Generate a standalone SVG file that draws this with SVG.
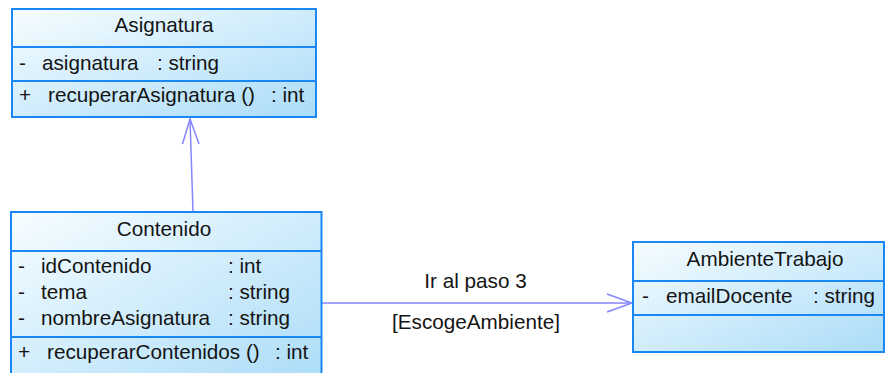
<svg xmlns="http://www.w3.org/2000/svg" width="885" height="373" viewBox="0 0 885 373">
<style>
.box{fill:url(#g);stroke:#1a88f4;stroke-width:2}
.div{stroke:#1a88f4;stroke-width:2}
text{font-family:"Liberation Sans",Arial,sans-serif;font-size:20.7px;fill:#141414}
.c{text-anchor:middle}
.edge{stroke:#8585ff;stroke-width:1.5;fill:none}
</style>
<defs>
<linearGradient id="g" x1="0" y1="0" x2="1" y2="1">
<stop offset="0" stop-color="#f7fdff"/>
<stop offset="1" stop-color="#aadcf8"/>
</linearGradient>
</defs>
<rect width="885" height="373" fill="#ffffff"/>
<g id="connectors">
<path class="edge" d="M193,212 L190,119"/>
<path class="edge" d="M182.5,144 L190,119 L199,144"/>
<path class="edge" d="M322,303 L632,303"/>
<path class="edge" d="M607,294 L632,303 L607,312"/>
<text class="c" x="475.5" y="288">Ir al paso 3</text>
<text class="c" x="476" y="329">[EscogeAmbiente]</text>
</g>
<g id="Asignatura">
<rect class="box" x="12" y="9" width="304" height="108"/>
<line class="div" x1="12" y1="47" x2="316" y2="47"/>
<line class="div" x1="12" y1="81" x2="316" y2="81"/>
<text class="c" x="164" y="32">Asignatura</text>
<text x="19" y="70">-</text>
<text x="42" y="70">asignatura</text>
<text x="157" y="70">: string</text>
<text x="19" y="102">+</text>
<text x="48" y="102">recuperarAsignatura ()</text>
<text x="271" y="102">: int</text>
</g>
<g id="Contenido">
<rect class="box" x="11" y="212" width="310.5" height="175"/>
<line class="div" x1="11" y1="251" x2="321.5" y2="251"/>
<line class="div" x1="11" y1="337" x2="321.5" y2="337"/>
<text class="c" x="164" y="236">Contenido</text>
<text x="18" y="273">-</text>
<text x="41" y="273">idContenido</text>
<text x="228" y="273">: int</text>
<text x="18" y="299">-</text>
<text x="41" y="299">tema</text>
<text x="228" y="299">: string</text>
<text x="18" y="325">-</text>
<text x="41" y="325">nombreAsignatura</text>
<text x="228" y="325">: string</text>
<text x="18" y="359">+</text>
<text x="47" y="359">recuperarContenidos ()</text>
<text x="275" y="359">: int</text>
</g>
<g id="AmbienteTrabajo">
<rect class="box" x="633" y="242" width="251" height="110"/>
<line class="div" x1="633" y1="281" x2="884" y2="281"/>
<line class="div" x1="633" y1="315" x2="884" y2="315"/>
<text class="c" x="765" y="266">AmbienteTrabajo</text>
<text x="642" y="303">-</text>
<text x="666" y="303">emailDocente</text>
<text x="813" y="303">: string</text>
</g>
</svg>
